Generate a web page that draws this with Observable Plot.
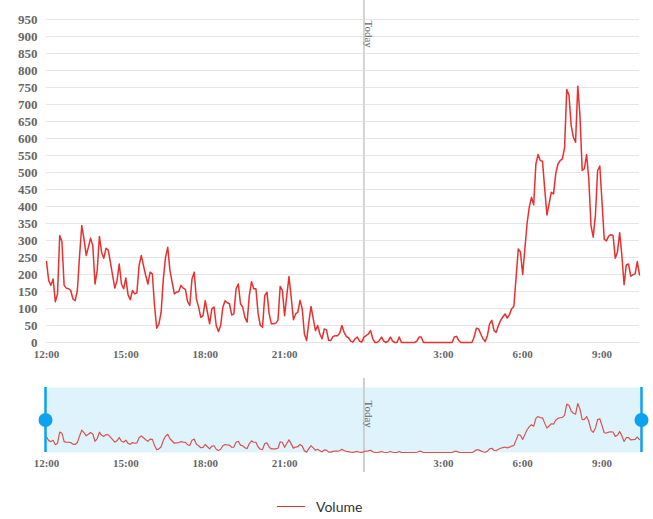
<!DOCTYPE html>
<html>
<head>
<meta charset="utf-8">
<script src="https://cdn.jsdelivr.net/npm/d3@7"></script>
<script src="https://cdn.jsdelivr.net/npm/@observablehq/plot@0.6"></script>
<style>
  html, body { margin: 0; padding: 0; background: #fff; }
  #wrap { position: relative; width: 653px; height: 519px; overflow: hidden; }
  #main { position: absolute; left: 0; top: 0; }
  #nav { position: absolute; left: 0; top: 365px; }
  #legend { position: absolute; left: 277px; top: 497px; height: 18px; display: flex; align-items: center;
            font-family: Lato, 'Open Sans', sans-serif; font-size: 14px; color: #333; }
  #legend .swatch { width: 28px; height: 0; border-top: 1.5px solid #e8312f; margin-right: 11px; }
</style>
</head>
<body>
<div id="wrap">
  <div id="main"></div>
  <div id="nav"></div>
  <div id="legend"><span class="swatch"></span><span id="legendLabel"></span></div>
</div>
<script>
// ---- data ----
const seriesName = "Volume";
const startTime = "2024-01-01T12:00:00Z";
const stepMinutes = 5;
const todayTime = "2024-01-02T00:00:00Z";
const todayLabel = "Today";
const volume = [
  238,182,168,187,120,143,315,297,168,160,
  158,153,128,123,153,255,344,305,256,280,
  307,285,172,212,312,265,248,277,272,236,
  197,160,182,231,172,158,190,140,126,153,
  143,146,226,256,226,197,172,207,202,109,
  42,55,89,187,251,280,212,177,143,148,
  150,168,160,156,120,109,187,207,128,104,
  74,79,123,89,55,99,104,50,32,50,
  104,123,117,114,81,84,158,172,114,104,
  74,60,138,179,158,158,84,50,45,138,
  148,84,55,55,57,65,165,153,79,138,
  194,133,67,84,89,124,99,25,6,60,
  106,70,35,50,25,11,40,37,6,6,
  18,20,20,27,50,30,18,14,4,1,
  11,16,4,1,16,20,25,35,11,0,
  0,6,16,4,0,4,16,4,0,0,
  16,0,0,0,0,0,0,0,4,16,
  16,0,0,0,0,0,0,0,0,0,
  0,0,0,0,0,16,18,6,0,0,
  0,0,0,0,16,42,40,25,11,3,
  20,55,65,35,30,50,65,75,84,72,
  82,99,106,190,275,266,200,275,350,398,
  427,405,525,553,535,533,452,375,408,442,
  437,496,525,535,540,572,744,728,638,604,
  589,754,667,506,511,553,481,344,310,374,
  506,519,413,304,299,313,317,315,248,266,
  323,256,170,228,231,195,199,202,238,199
];
const yTicks = [0,50,100,150,200,250,300,350,400,450,500,550,600,650,700,750,800,850,900,950];
const xTickTimes = ["2024-01-01T12:00:00Z","2024-01-01T15:00:00Z","2024-01-01T18:00:00Z","2024-01-01T21:00:00Z",
                    "2024-01-02T03:00:00Z","2024-01-02T06:00:00Z","2024-01-02T09:00:00Z"];
const xTickLabels = ["12:00","15:00","18:00","21:00","3:00","6:00","9:00"];

// ---- build ----
const t0 = new Date(startTime).getTime();
const rows = volume.map((v, i) => ({ t: new Date(t0 + i * stepMinutes * 60000), v }));
const xDomain = [rows[0].t, rows[rows.length - 1].t];
const today = new Date(todayTime);
const xTicks = xTickTimes.map(s => new Date(s));
const labelOf = new Map(xTicks.map((d, i) => [+d, xTickLabels[i]]));
const fmtX = d => labelOf.get(+d) ?? "";

const baseStyle = { fontFamily: "'Liberation Serif', 'Times New Roman', serif", color: "#666", background: "transparent", overflow: "visible" };

const main = Plot.plot({
  width: 653, height: 365,
  marginLeft: 46, marginRight: 14, marginTop: 19, marginBottom: 23,
  style: baseStyle,
  x: { type: "utc", domain: xDomain, label: null },
  y: { domain: [0, 950], label: null },
  marks: [
    Plot.gridY(yTicks, { stroke: "#e6e6e6", strokeOpacity: 1, strokeWidth: 1 }),
    Plot.ruleX([today], { stroke: "#d4d4d4", strokeWidth: 2, insetTop: -19 }),
    Plot.text([today], { x: d => d, frameAnchor: "top", text: () => todayLabel, rotate: 90, textAnchor: "start",
      lineAnchor: "bottom", dx: 1, dy: 1, fontSize: 11, fill: "#666", fontWeight: "normal" }),
    Plot.axisY({ ticks: yTicks, tickSize: 0, tickPadding: 9, fontSize: 13, fontWeight: "bold", fill: "#666", label: null }),
    Plot.axisX({ ticks: xTicks, tickFormat: fmtX, tickSize: 0, tickPadding: 8, fontSize: 11, fontWeight: "bold", fill: "#666", label: null }),
    Plot.line(rows, { x: "t", y: "v", stroke: "#e8312f", strokeWidth: 1.5, curve: "linear" })
  ]
});
document.getElementById("main").appendChild(main);

const nav = Plot.plot({
  width: 653, height: 110,
  marginLeft: 46, marginRight: 14, marginTop: 22, marginBottom: 23,
  style: baseStyle,
  x: { type: "utc", domain: xDomain, label: null },
  y: { domain: [0, 1000], axis: null, label: null },
  marks: [
    Plot.frame({ fill: "#dff3fd", stroke: null, insetLeft: -1, insetRight: -2 }),
    Plot.ruleX([today], { stroke: "#cfcfcf", strokeWidth: 2, insetTop: -9, insetBottom: -20 }),
    Plot.text([today], { x: d => d, frameAnchor: "top", text: () => todayLabel, rotate: 90, textAnchor: "start",
      lineAnchor: "bottom", dx: 1, dy: 13, fontSize: 11, fill: "#666", fontWeight: "normal" }),
    Plot.line(rows, { x: "t", y: "v", stroke: "#d9534f", strokeWidth: 1.2 }),
    Plot.ruleX([xDomain[0]], { stroke: "#0ea2ee", strokeWidth: 2.5, dx: -1 }),
    Plot.ruleX([xDomain[1]], { stroke: "#0ea2ee", strokeWidth: 2.5, dx: 2 }),
    Plot.dot([xDomain[0]], { x: d => d, frameAnchor: "middle", r: 7, fill: "#0ea2ee", stroke: null, dx: -1 }),
    Plot.dot([xDomain[1]], { x: d => d, frameAnchor: "middle", r: 7, fill: "#0ea2ee", stroke: null, dx: 2 }),
    Plot.axisX({ ticks: xTicks, tickFormat: fmtX, tickSize: 0, tickPadding: 7, fontSize: 11, fontWeight: "bold", fill: "#666", label: null })
  ]
});
document.getElementById("nav").appendChild(nav);
document.getElementById("legendLabel").textContent = seriesName;
</script>
</body>
</html>
